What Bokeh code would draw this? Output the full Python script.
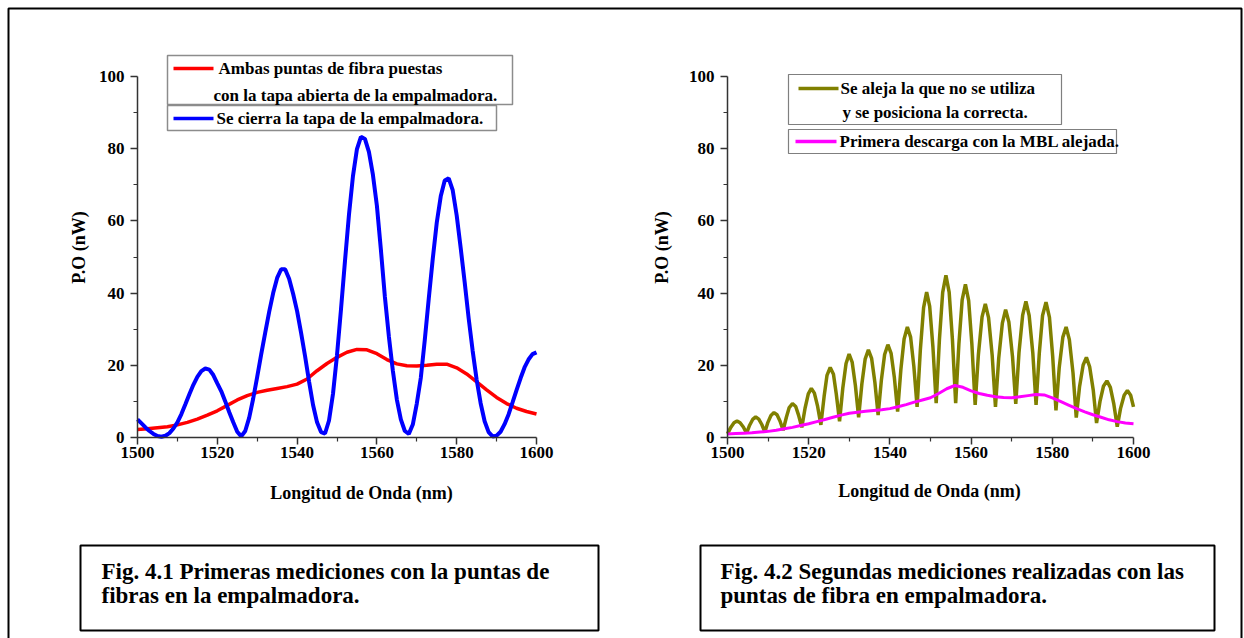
from bokeh.plotting import figure
from bokeh.models import Range1d, BoxAnnotation, Label, FixedTicker, LinearAxis
from bokeh.embed import file_html
from bokeh.resources import INLINE
import math

FONT = "Liberation Serif"

# ---------------- data ----------------
x_ticks = [1500, 1520, 1540, 1560, 1580, 1600]
x_minor = [1510, 1530, 1550, 1570, 1590]
y_ticks = [0, 20, 40, 60, 80, 100]
y_minor = [10, 30, 50, 70, 90]

# Fig 4.1 - red: fibre tips with open lid
red_x = [1500 + 2.5 * i for i in range(41)]
red_y = [2.2, 2.4, 2.7, 3.0, 3.5, 4.2, 5.1, 6.2, 7.4, 8.9,
         10.4, 11.6, 12.5, 13.1, 13.6, 14.1, 14.8, 16.2, 18.5, 20.5,
         22.2, 23.6, 24.4, 24.3, 23.2, 21.6, 20.4, 19.9, 19.8, 20.0,
         20.3, 20.3, 19.3, 17.6, 15.4, 13.2, 11.1, 9.4, 8.1, 7.2, 6.5]

# Fig 4.1 - blue: lid closed
blue_x = list(range(1500, 1601))
blue_y = [5.0, 3.9, 2.8, 1.8, 1.0, 0.4, 0.2, 0.5, 1.2, 2.5,
          4.2, 6.5, 9.2, 12.0, 14.6, 16.8, 18.4, 19.1, 18.8, 17.3,
          15.0, 12.8, 10.0, 7.0, 4.2, 1.6, 0.3, 1.8, 5.5, 10.8,
          16.8, 23.0, 29.0, 34.8, 40.0, 44.2, 46.6, 46.6, 44.0, 39.8,
          35.0, 29.0, 22.5, 15.5, 9.0, 4.2, 1.5, 1.1, 4.7, 12.1,
          22.8, 35.5, 48.9, 61.7, 72.4, 79.9, 83.3, 82.7, 79.1, 72.8,
          64.2, 52.0, 39.0, 28.0, 18.5, 10.5, 5.0, 1.8, 1.0, 3.6,
          9.4, 16.5, 27.0, 38.5, 49.5, 59.5, 66.8, 71.2, 71.8, 68.5,
          61.5, 52.5, 43.0, 33.0, 24.0, 16.0, 9.5, 4.5, 1.5, 0.3,
          0.5, 1.6, 3.7, 6.4, 9.7, 13.1, 16.4, 19.4, 21.6, 23.1, 23.6]

# Fig 4.2 - olive: unused one removed, correct one positioned
olive_x = [1500.0, 1500.8, 1501.6, 1502.35, 1503.1, 1503.9,
           1504.7, 1505.45, 1506.2, 1506.95, 1507.7, 1508.45,
           1509.2, 1509.95, 1510.7, 1511.45, 1512.2, 1512.95,
           1513.7, 1514.5, 1515.2, 1516.0, 1516.8, 1517.5,
           1518.3, 1519.1, 1519.9, 1520.65, 1521.4, 1522.2,
           1523.0, 1523.8, 1524.5, 1525.3, 1526.1, 1526.8,
           1527.6, 1528.4, 1529.2, 1529.95, 1530.7, 1531.5,
           1532.3, 1533.1, 1533.9, 1534.7, 1535.5, 1536.3,
           1537.1, 1537.9, 1538.7, 1539.5, 1540.3, 1541.1,
           1541.9, 1542.7, 1543.5, 1544.3, 1545.1, 1545.9,
           1546.7, 1547.5, 1548.3, 1549.05, 1549.8, 1550.6,
           1551.4, 1552.2, 1553.0, 1553.8, 1554.6, 1555.4,
           1556.2, 1557.0, 1557.8, 1558.6, 1559.4, 1560.2,
           1561.0, 1561.8, 1562.7, 1563.5, 1564.3, 1565.2,
           1566.0, 1566.8, 1567.7, 1568.5, 1569.3, 1570.2,
           1571.0, 1571.8, 1572.7, 1573.5, 1574.3, 1575.2,
           1576.0, 1576.8, 1577.6, 1578.45, 1579.3, 1580.1,
           1580.9, 1581.7, 1582.6, 1583.4, 1584.2, 1585.1,
           1585.9, 1586.7, 1587.6, 1588.4, 1589.2, 1590.1,
           1590.9, 1591.75, 1592.6, 1593.45, 1594.3, 1595.15,
           1596.0, 1596.8, 1597.7, 1598.5, 1599.3, 1600.0]
olive_y = [1.0, 2.8, 4.1, 4.6, 4.1, 2.9,
           1.2, 3.4, 5.0, 5.7, 5.1, 3.6,
           1.5, 4.2, 6.1, 6.9, 6.3, 4.5,
           2.0, 5.6, 8.3, 9.4, 8.6, 6.2,
           2.8, 8.1, 12.1, 13.6, 12.3, 8.6,
           3.5, 11.4, 17.2, 19.4, 17.5, 12.0,
           4.5, 13.7, 20.5, 23.1, 20.9, 14.4,
           5.6, 14.9, 21.7, 24.3, 21.9, 15.3,
           6.2, 15.9, 23.0, 25.7, 23.3, 16.6,
           7.2, 18.8, 27.3, 30.6, 27.8, 19.7,
           8.5, 24.3, 36.0, 40.3, 36.3, 25.0,
           9.5, 27.2, 40.2, 44.9, 40.2, 27.2,
           9.5, 26.0, 38.1, 42.4, 37.9, 25.7,
           9.0, 23.0, 33.4, 37.0, 33.2, 22.7,
           8.5, 21.9, 31.7, 35.4, 32.0, 22.4,
           9.3, 23.6, 33.9, 37.7, 33.8, 23.4,
           9.0, 23.4, 33.8, 37.5, 33.3, 22.4,
           7.5, 19.3, 27.8, 30.6, 27.1, 17.9,
           5.5, 14.0, 20.1, 22.2, 19.6, 13.0,
           4.0, 10.0, 14.2, 15.7, 13.9, 9.3,
           3.0, 8.0, 11.7, 13.0, 11.7, 8.5]

# Fig 4.2 - magenta: first discharge with MBL removed
mag_x = list(range(1500, 1601, 2))
mag_y = [1.0, 1.1, 1.2, 1.3, 1.5, 1.7, 2.0, 2.4, 2.8, 3.3,
         3.8, 4.4, 5.0, 5.6, 6.2, 6.7, 7.0, 7.3, 7.5, 7.7,
         8.0, 8.5, 9.1, 9.8, 10.4, 11.0, 12.2, 13.5, 14.4, 13.9,
         12.9, 12.2, 11.7, 11.3, 11.1, 11.0, 11.3, 11.6, 11.9, 11.8,
         11.0, 10.0, 9.0, 8.0, 7.1, 6.3, 5.6, 4.9, 4.4, 4.0, 3.8]

x_title = "Longitud de Onda (nm)"
y_title = "P.O (nW)"
leg1_a = ["Ambas puntas de fibra puestas", "con la tapa abierta de la empalmadora."]
leg1_b = "Se cierra la tapa de la empalmadora."
leg2_a = ["Se aleja la que no se utiliza", "y se posiciona la correcta."]
leg2_b = "Primera descarga con la MBL alejada."
cap1 = ["Fig. 4.1 Primeras mediciones con la puntas de", "fibras  en la empalmadora."]
cap2 = ["Fig. 4.2 Segundas mediciones realizadas con las", "puntas de fibra en empalmadora."]

# ---------------- layout (page pixels) ----------------
W, H = 1244, 638
L_X0, L_X1 = 137, 536      # left chart: pixel of 1500 and 1600
R_X0, R_X1 = 727, 1133     # right chart
Y_0, Y_100 = 437, 76       # pixel of 0 and 100 (both charts)

ax_ = 100.0 / (L_X1 - L_X0)
ar_ = 100.0 / (R_X1 - R_X0)
by_ = 100.0 / (Y_0 - Y_100)

p = figure(width=W, height=H,
           x_range=Range1d(1500 - L_X0 * ax_, 1500 + (W - L_X0) * ax_),
           y_range=Range1d(-(H - Y_0) * by_, Y_0 * by_),
           x_axis_location=None, y_axis_location=None,
           output_backend="svg", toolbar_location=None, title=None,
           min_border=0)
p.extra_x_ranges = {"r": Range1d(1500 - R_X0 * ar_, 1500 + (W - R_X0) * ar_)}
p.outline_line_color = None
p.grid.visible = False
p.background_fill_color = "white"
p.border_fill_color = "white"


def style_axis(ax):
    ax.axis_line_color = "#333333"
    ax.axis_line_width = 1.5
    ax.major_tick_line_color = "#333333"
    ax.major_tick_line_width = 1.5
    ax.minor_tick_line_color = "#333333"
    ax.minor_tick_line_width = 1.2
    ax.major_tick_out = 7
    ax.major_tick_in = 0
    ax.minor_tick_out = 4
    ax.minor_tick_in = 0
    ax.major_label_text_font = FONT
    ax.major_label_text_font_size = "17px"
    ax.major_label_text_font_style = "bold"
    ax.major_label_text_color = "black"


for rng in ("default", "r"):
    xa = LinearAxis(x_range_name=rng, fixed_location=0, bounds=(1500, 1600),
                    ticker=FixedTicker(ticks=x_ticks, minor_ticks=x_minor))
    style_axis(xa)
    xa.major_label_standoff = 2
    p.add_layout(xa, "below")
    ya = LinearAxis(x_range_name=rng, fixed_location=1500, bounds=(0, 100),
                    ticker=FixedTicker(ticks=y_ticks, minor_ticks=y_minor))
    style_axis(ya)
    ya.major_label_standoff = 6
    p.add_layout(ya, "left")

p.line(red_x, red_y, line_color="#ff0000", line_width=3.5)
p.line(blue_x, blue_y, line_color="#0000ff", line_width=4)
p.line(olive_x, olive_y, line_color="#808000", line_width=3.5, x_range_name="r")
p.line(mag_x, mag_y, line_color="#ff00ff", line_width=3, x_range_name="r")


def box(l, t, r, b, color="black", width=2.0, fill=None):
    p.add_layout(BoxAnnotation(left=l, right=r, top=H - t, bottom=H - b,
                               left_units="screen", right_units="screen",
                               top_units="screen", bottom_units="screen",
                               line_color=color, line_width=width, line_alpha=1.0,
                               fill_color=fill if fill else "white",
                               fill_alpha=1.0 if fill else 0.0,
                               level="overlay"))


def sample(l, r, yc, color):
    p.add_layout(BoxAnnotation(left=l, right=r, top=H - yc + 1.75, bottom=H - yc - 1.75,
                               left_units="screen", right_units="screen",
                               top_units="screen", bottom_units="screen",
                               line_color=None, fill_color=color, fill_alpha=1.0,
                               level="overlay"))


def txt(x, y, text, size="17px", angle=0.0, align="left"):
    p.add_layout(Label(x=x, y=H - y, x_units="screen", y_units="screen", text=text,
                       text_font=FONT, text_font_size=size, text_font_style="bold",
                       text_color="black", text_baseline="middle", text_align=align,
                       angle=angle, level="overlay"))


# outer frame
box(8, 8, 1241, 660, "black", 2.0)

# left legend
box(167, 55, 512, 104, "#8c8c8c", 1.5, "white")
box(167, 105, 496, 130, "#8c8c8c", 1.5, "white")
sample(173, 213, 68, "#ff0000")
txt(218, 68, leg1_a[0])
txt(213, 95, leg1_a[1])
sample(173, 213, 118, "#0000ff")
txt(216, 118, leg1_b)

# right legend
box(788, 74, 1061, 124, "#7f7f7f", 1.2, "white")
box(788, 129, 1116, 153, "#7f7f7f", 1.2, "white")
sample(798, 838, 88, "#808000")
txt(840, 88, leg2_a[0])
txt(842, 112, leg2_a[1])
sample(795, 836, 141, "#ff00ff")
txt(839, 141, leg2_b)

# axis titles
txt(361, 492, x_title, "18px", align="center")
txt(78, 247, y_title, "18px", angle=math.pi / 2, align="center")
txt(929, 490, x_title, "18px", align="center")
txt(661, 247, y_title, "18px", angle=math.pi / 2, align="center")

# captions
box(80, 545, 598, 630, "black", 2.0)
txt(101, 571, cap1[0], "23px")
txt(101, 595, cap1[1], "23px")
box(700, 545, 1214, 630, "black", 2.0)
txt(720, 571, cap2[0], "23px")
txt(720, 595, cap2[1], "23px")

open("out.html", "w").write(file_html(p, INLINE))
